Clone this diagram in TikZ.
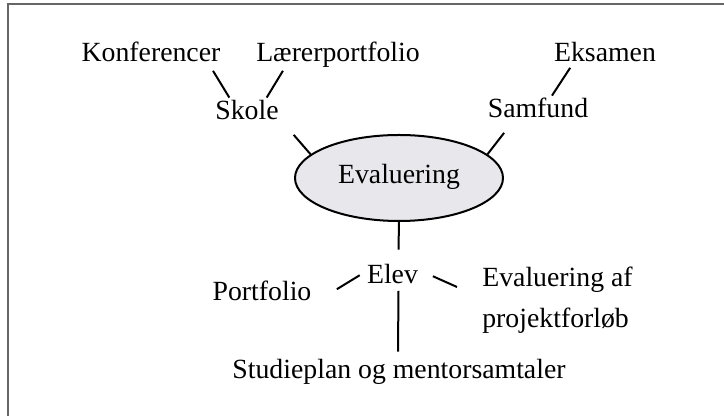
\documentclass[tikz,border=0pt]{standalone}
\usepackage{fontspec}
\setmainfont{Liberation Serif}
\usepackage{tikz}
\usetikzlibrary{shapes.geometric}
\definecolor{hubfill}{RGB}{232,231,236}
\begin{document}
\begin{tikzpicture}[font=\fontsize{15.8}{23.4}\selectfont,
  word/.style={anchor=base,inner sep=0pt,text height=0.7em,text depth=0.25em},
  hub/.style={ellipse,draw,line width=0.4mm,fill=hubfill,inner sep=0pt,
    minimum width=4.16cm,minimum height=1.72cm,text height=0.9em,text depth=0.25em},
  link/.style={line width=0.4mm},
  frame/.style={draw=black!60,line width=0.25mm}]
\useasboundingbox (0,0) rectangle (14.48,8.32);
\draw[frame] (0.16,0) |- (14.48,8.24);
\node[word] (konf) at (3.02,7.08) {Konferencer};
\node[word] (laerer) at (6.76,7.08) {Lærerportfolio};
\node[word] (eks) at (12.10,7.08) {Eksamen};
\node[word] (skole) at (4.94,5.92) {Skole};
\node[word] (samf) at (10.76,5.96) {Samfund};
\node[hub] (eval) at (7.98,4.76) {Evaluering};
\node[word] (elev) at (7.85,2.64) {Elev};
\node[word] (portf) at (5.24,2.30) {Portfolio};
\node[inner sep=0pt,align=left,anchor=west] (projekt) at (9.64,2.31) {Evaluering af\\projektforløb};
\node[word] (studie) at (7.98,0.74) {Studieplan og mentorsamtaler};
\draw[link] ([xshift=-1.54mm,yshift=-0.82mm]konf.south east) -- ([xshift=2.86mm,yshift=1.95mm]skole.north west);
\draw[link] ([xshift=5.4mm,yshift=-0.82mm]laerer.south west) -- ([xshift=-2.46mm,yshift=1.95mm]skole.north east);
\draw[link] ([xshift=2.94mm,yshift=-2.02mm]skole.south east) -- (eval.165);
\draw[link] ([xshift=3.28mm,yshift=-0.22mm]eks.south west) -- ([xshift=2.8mm,yshift=1.95mm]samf.north);
\draw[link] ([xshift=3.32mm,yshift=-2.02mm]samf.south west) -- (eval.15);
\draw[link] (eval.south) -- ([xshift=1.2mm,yshift=4.35mm]elev.north);
\draw[link] ([xshift=1.2mm,yshift=-0.42mm]elev.south) -- ([xshift=-0.2mm,yshift=2.95mm]studie.north);
\draw[link] ([xshift=5.02mm,yshift=1.56mm]portf.east) -- ([xshift=-1.4mm,yshift=0.96mm]elev.west);
\draw[link] ([xshift=2.92mm,yshift=0.76mm]elev.east) -- ([xshift=-5mm,yshift=2.7mm]projekt.west);
\end{tikzpicture}
\end{document}
